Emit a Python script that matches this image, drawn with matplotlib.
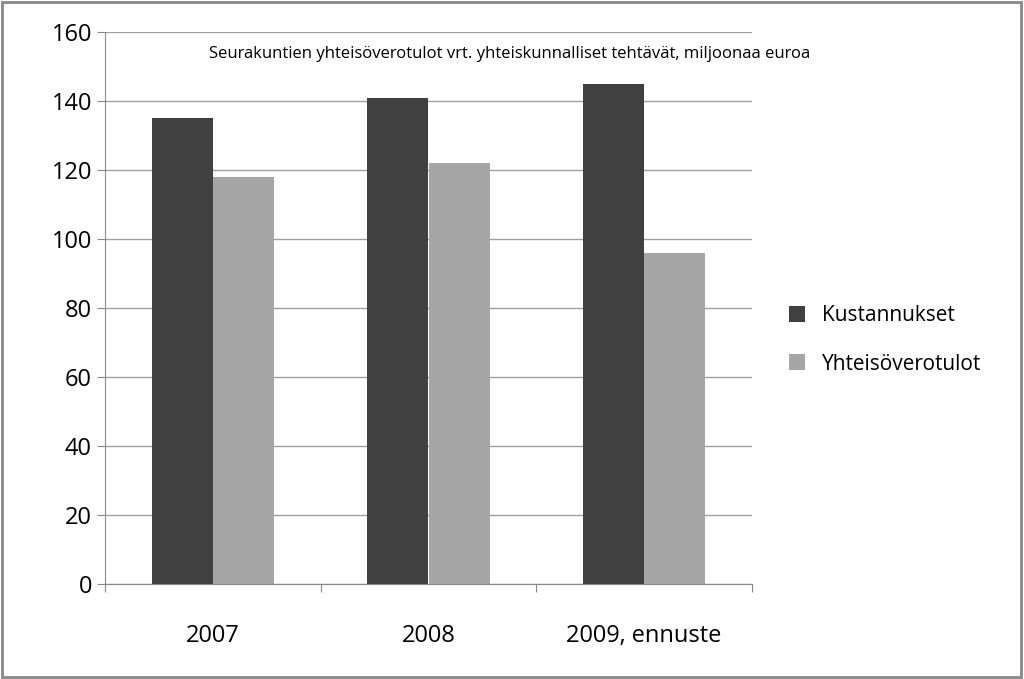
import matplotlib
matplotlib.use("Agg")
import matplotlib.pyplot as plt
import numpy as np
from matplotlib.patches import Rectangle

categories = ["2007", "2008", "2009, ennuste"]
kustannukset = [135, 141, 145]
yhteisoverotulot = [118, 122, 96]
yticks = [0, 20, 40, 60, 80, 100, 120, 140, 160]

plt.rcParams["font.family"] = "Open Sans"
fig = plt.figure(figsize=(10.24, 6.79), dpi=100)
ax = fig.add_axes([105/1024, 1-584/679, (752-105)/1024, (584-32)/679])
x = np.arange(len(categories))
w = 0.283
ax.bar(x - w/2, kustannukset, w, color="#404040", label="Kustannukset")
ax.bar(x + w/2, yhteisoverotulot, w, color="#a6a6a6", label="Yhteisöverotulot")
ax.set_xlim(-0.5, 2.5)
ax.set_ylim(0, 160)
ax.set_yticks(yticks)
ax.yaxis.grid(True, color="#a0a0a0", linewidth=1)
ax.set_axisbelow(True)
ax.set_xticks([-0.5, 0.5, 1.5, 2.5], minor=False)
ax.set_xticklabels([])
ax.tick_params(axis="x", length=6, color="#888888")
for i, c in enumerate(categories):
    ax.text(i, -15, c, ha="center", va="center", fontsize=17)
ax.tick_params(axis="y", labelsize=17, length=6, color="#888888")
for s in ["top", "right"]:
    ax.spines[s].set_visible(False)
ax.spines["left"].set_color("#888888")
ax.spines["bottom"].set_color("#888888")
ax.text(0.16, 0.975, "Seurakuntien yhteisöverotulot vrt. yhteiskunnalliset tehtävät, miljoonaa euroa",
        transform=ax.transAxes, fontsize=12, va="top", ha="left")
fig.legend(loc="center left", bbox_to_anchor=(770/1024, 1-340/679), frameon=False,
           fontsize=15, handlelength=0.8, handleheight=0.8, labelspacing=1.3)
fig.patches.append(Rectangle((0.002, 0.003), 0.995, 0.994, transform=fig.transFigure,
                             fill=False, edgecolor="#888888", linewidth=2))
fig.savefig("out.png", dpi=100)
